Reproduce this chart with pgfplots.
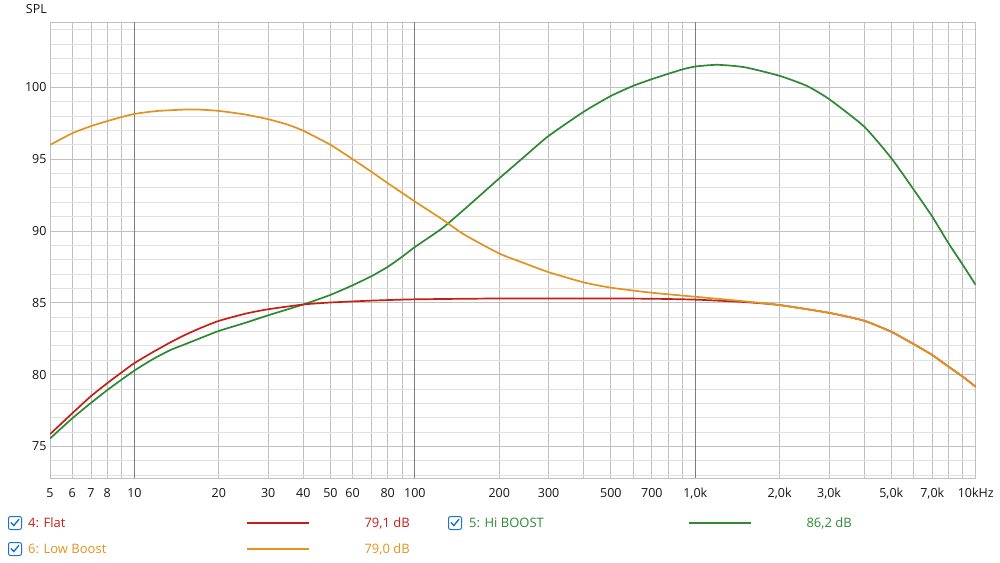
\documentclass[border=0pt]{standalone}
\usepackage{pgfplots}
\pgfplotsset{compat=1.18}
\usepackage{fontspec}
\setmainfont{Open Sans}
\definecolor{cflat}{RGB}{196,32,24}
\definecolor{clow}{RGB}{226,146,30}
\definecolor{chi}{RGB}{44,138,52}
\definecolor{cbox}{RGB}{30,115,210}
\definecolor{gmin}{RGB}{224,224,224}
\definecolor{gmid}{RGB}{192,192,192}
\definecolor{gdec}{RGB}{125,125,125}
\definecolor{ticktxt}{RGB}{20,20,20}
\newcommand{\cbx}[2]{%
  \draw[cbox, line width=1pt, rounded corners=2pt, fill=white] (#1-6.5pt,#2-6.5pt) rectangle (#1+6.5pt,#2+6.5pt);
  \draw[cbox, line width=1.4pt, line cap=round, line join=round] (#1-3.8pt,#2+0.3pt) -- (#1-1.2pt,#2-2.6pt) -- (#1+3.8pt,#2+3.6pt);}
\begin{document}
\begin{tikzpicture}[x=1pt,y=1pt]
\path[use as bounding box] (0,0) rectangle (1000,562);
\begin{axis}[
  at={(50pt,84pt)}, anchor=south west, scale only axis,
  width=925.7pt, height=456pt,
  xmode=log, log basis x=10,
  xmin=5, xmax=10000, ymin=72.8, ymax=104.55,
  axis line style={gmid, line width=0.8pt},
  major tick length=0pt, minor tick length=0pt,
  tick style={draw=none},
  xtick={5,6,7,8,9,20,30,40,50,60,70,80,90,200,300,400,500,600,700,800,900,2000,3000,4000,5000,6000,7000,8000,9000,10000},
  xticklabels={5,6,7,8,{},20,30,40,50,60,{},80,{},200,300,{},500,{},700,{},{},{2,0k},{3,0k},{},{5,0k},{},{7,0k},{},{},10kHz},
  extra x ticks={10,100,1000},
  extra x tick labels={10,100,{1,0k}},
  extra x tick style={grid=major, major grid style={gdec, line width=0.8pt}},
  ytick={75,80,85,90,95,100},
  yticklabels={75,80,85,90,95,100},
  minor ytick={73,74,76,77,78,79,81,82,83,84,86,87,88,89,91,92,93,94,96,97,98,99,101,102,103,104},
  grid=both,
  major grid style={gmid, line width=0.8pt},
  minor grid style={gmin, line width=0.8pt},
  xticklabel style={anchor=base, yshift=-19.5pt, font=\fontsize{12.5}{14}\selectfont, text=ticktxt},
  yticklabel style={font=\fontsize{12.5}{14}\selectfont, text=ticktxt},
  every axis plot/.append style={line width=1.7pt, smooth, tension=0.35, no markers},
]
\addplot[chi] coordinates {
(5,75.55) (6,76.95) (7,78.03) (8,78.92) (9,79.65) (10,80.28) (11.6,81.06) (13.4,81.7)
(15,82.08) (17,82.5) (20,83.04) (25,83.62) (30,84.13) (40,84.88) (50,85.55) (60,86.22)
(70,86.85) (80,87.5) (90,88.2) (100,88.88) (125,90.18) (150,91.5) (200,93.66)
(250,95.3) (300,96.62) (400,98.3) (500,99.4) (600,100.1) (700,100.57) (800,100.94)
(900,101.25) (1000,101.45) (1200,101.57) (1500,101.4) (2000,100.8) (2500,100.1)
(3000,99.18) (4000,97.27) (5000,95.07) (6000,92.9) (7000,91.0) (8000,89.14)
(9000,87.63) (10000,86.24)
};
\addplot[cflat] coordinates {
(5,75.85) (6,77.3) (7,78.5) (8,79.4) (9,80.15) (10,80.8) (11.6,81.55) (13.4,82.23)
(15,82.72) (17,83.2) (20,83.74) (25,84.25) (30,84.55) (40,84.88) (50,85.02) (70,85.15)
(100,85.24) (200,85.3) (300,85.3) (500,85.3) (700,85.28) (1000,85.22) (1500,85.05)
(2000,84.84) (3000,84.3) (4000,83.75) (5000,82.98) (6000,82.13) (7000,81.36)
(8000,80.55) (9000,79.85) (10000,79.15)
};
\addplot[clow] coordinates {
(5,95.99) (6,96.8) (7,97.3) (8,97.65) (9,97.93) (10,98.15) (12,98.35) (15,98.45)
(17,98.45) (20,98.36) (25,98.1) (30,97.78) (35,97.42) (40,96.98) (50,96.0) (60,95.0)
(70,94.12) (80,93.33) (90,92.66) (100,92.05) (125,90.82) (150,89.75) (200,88.43)
(250,87.7) (300,87.13) (400,86.42) (500,86.05) (700,85.7) (1000,85.42) (1500,85.1)
(2000,84.84) (3000,84.3) (4000,83.75) (5000,82.98) (6000,82.13) (7000,81.36)
(8000,80.55) (9000,79.85) (10000,79.15)
};
\end{axis}
\node[anchor=east, font=\fontsize{12.5}{14}\selectfont, text=ticktxt, inner sep=0pt] at (47,553) {SPL};
% legend
\cbx{15pt}{39pt}
\cbx{15pt}{13pt}
\cbx{455pt}{39pt}
\begin{scope}[font=\fontsize{13}{15}\selectfont]
\node[anchor=west, inner sep=0pt, text=cflat] at (28,39) {4: Flat};
\node[anchor=west, inner sep=0pt, text=clow] at (28,13) {6: Low Boost};
\node[anchor=west, inner sep=0pt, text=chi] at (469,39) {5: Hi BOOST};
\draw[cflat, line width=2.6pt] (247,39) -- (309,39);
\draw[clow, line width=2.6pt] (247,13) -- (309,13);
\draw[chi, line width=2.6pt] (689,39) -- (751,39);
\node[anchor=east, inner sep=0pt, text=cflat] at (410,39) {79,1 dB};
\node[anchor=east, inner sep=0pt, text=clow] at (410,13) {79,0 dB};
\node[anchor=east, inner sep=0pt, text=chi] at (852,39) {86,2 dB};
\end{scope}
\end{tikzpicture}
\end{document}
